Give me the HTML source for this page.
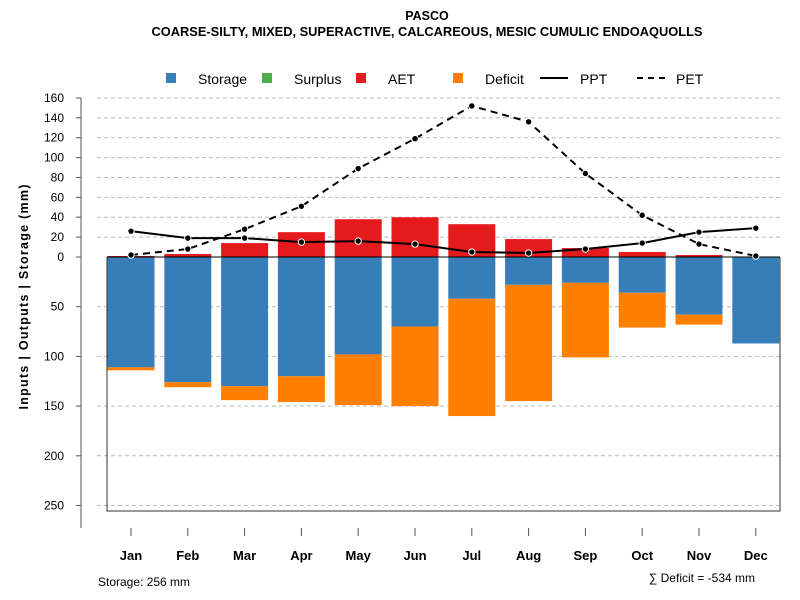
<!DOCTYPE html>
<html><head><meta charset="utf-8"><style>
body{margin:0;background:#fff;}
svg{display:block;font-family:"Liberation Sans",sans-serif;}
</style></head><body>
<svg id="c" width="800" height="600">
<text x="427" y="20" font-size="12.5" font-weight="bold" text-anchor="middle">PASCO</text>
<text x="427" y="36" font-size="12.5" font-weight="bold" text-anchor="middle" textLength="551" lengthAdjust="spacingAndGlyphs">COARSE-SILTY, MIXED, SUPERACTIVE, CALCAREOUS, MESIC CUMULIC ENDOAQUOLLS</text>
<g id="legend"></g>
<g id="grid"></g><g id="bars"></g><g id="lines"></g><g id="axes"></g>
<text x="0" y="0" transform="translate(28,297) rotate(-90)" font-size="12.5" font-weight="bold" text-anchor="middle" textLength="225" lengthAdjust="spacing">Inputs | Outputs | Storage    (mm)</text>
<text x="98" y="586" font-size="12">Storage: 256 mm</text>
<text x="755" y="582" font-size="12" text-anchor="end">∑ Deficit = -534 mm</text>
</svg>
<script>
const months=["Jan","Feb","Mar","Apr","May","Jun","Jul","Aug","Sep","Oct","Nov","Dec"];
const aet=[1,3,14,25,38,40,33,18,9,5,2,0];
const storage=[111,126,130,120,98,70,42,28,26,36,58,87];
const deficit=[3,5,14,26,51,80,118,117,75,35,10,0];
const surplus=[0,0,0,0,0,0,0,0,0,0,0,0];
const ppt=[26,19,19,15,16,13,5,4,8,14,25,29];
const pet=[2,8,28,51,89,119,152,136,84,42,13,1];
const upTicks=[0,20,40,60,80,100,120,140,160];
const downTicks=[50,100,150,200,250];
const NS="http://www.w3.org/2000/svg";
function mk(t,a,p){const e=document.createElementNS(NS,t);for(const k in a)e.setAttribute(k,a[k]);p.appendChild(e);return e;}
const y0=257,sc=0.994;
const yUp=v=>y0-v*sc, yDn=v=>y0+v*sc;
const xC=i=>131+i*56.8, bw=47;
const grid=document.getElementById('grid'),bars=document.getElementById('bars'),lines=document.getElementById('lines'),axes=document.getElementById('axes'),leg=document.getElementById('legend');
upTicks.forEach(v=>{const y=yUp(v);
 if(v>0){const g=mk('line',{x1:97,x2:780,y1:y,y2:y,stroke:'#bbb','stroke-dasharray':'4,3'},grid);}
 const t=mk('line',{x1:76,x2:81,y1:y,y2:y,stroke:'#555'},axes);
 const l=mk('text',{x:64,y:y+4,'font-size':12,'text-anchor':'end'},axes);l.textContent=v;});
downTicks.forEach(v=>{const y=yDn(v);
 const g=mk('line',{x1:97,x2:780,y1:y,y2:y,stroke:'#bbb','stroke-dasharray':'4,3'},grid);
 const t=mk('line',{x1:76,x2:81,y1:y,y2:y,stroke:'#555'},axes);
 const l=mk('text',{x:64,y:y+4,'font-size':12,'text-anchor':'end'},axes);l.textContent=v;});
const ya=mk('line',{x1:81,x2:81,y1:yUp(160),y2:528,stroke:'#555'},axes);
const box=mk('path',{d:`M107 ${y0} V511 H780 V${y0}`,fill:'none',stroke:'#333'},axes);
months.forEach((m,i)=>{const x=xC(i);
 const r1=mk('rect',{x:x-bw/2,y:yUp(aet[i]),width:bw,height:aet[i]*sc,fill:'#e41a1c'},bars);
 const r2=mk('rect',{x:x-bw/2,y:y0,width:bw,height:storage[i]*sc,fill:'#377eb8'},bars);
 const r3=mk('rect',{x:x-bw/2,y:yDn(storage[i]),width:bw,height:deficit[i]*sc,fill:'#ff7f00'},bars);
 const t=mk('line',{x1:x,x2:x,y1:528,y2:536,stroke:'#555'},axes);
 const l=mk('text',{x:x,y:560,'font-size':13,'font-weight':'bold','text-anchor':'middle'},axes);l.textContent=m;});
const zl=mk('line',{x1:107,x2:780,y1:y0,y2:y0,stroke:'#000'},bars);
function series(arr,dash,name){
 const p=mk('polyline',{points:arr.map((v,i)=>xC(i)+','+yUp(v)).join(' '),fill:'none',stroke:'#000','stroke-width':2,'stroke-dasharray':dash},lines);
 
 arr.forEach((v,i)=>{const c=mk('circle',{cx:xC(i),cy:yUp(v),r:3.2,fill:'#000',stroke:'#fff','stroke-width':1},lines);});}
series(pet,'7,5','pet');series(ppt,'none','ppt');
[["Storage","#377eb8",172],["Surplus","#4daf4a",268],["AET","#e41a1c",362]].forEach(([n,c,x])=>{
 const r=mk('rect',{x:x-6,y:73,width:10,height:10,fill:c},leg);
 const t=mk('text',{x:x+26,y:84,'font-size':14},leg);t.textContent=n;});
{const r=mk('rect',{x:453,y:73,width:10,height:10,fill:'#ff7f00'},leg);
 const t=mk('text',{x:485,y:84,'font-size':14},leg);t.textContent='Deficit';}
[["PPT","none",540,580],["PET","6,5",637,676]].forEach(([n,d,x,tx])=>{
 const l=mk('line',{x1:x,x2:x+28,y1:78,y2:78,stroke:'#000','stroke-width':2,'stroke-dasharray':d},leg);
 const t=mk('text',{x:tx,y:84,'font-size':14},leg);t.textContent=n;});
</script>
</body></html>
